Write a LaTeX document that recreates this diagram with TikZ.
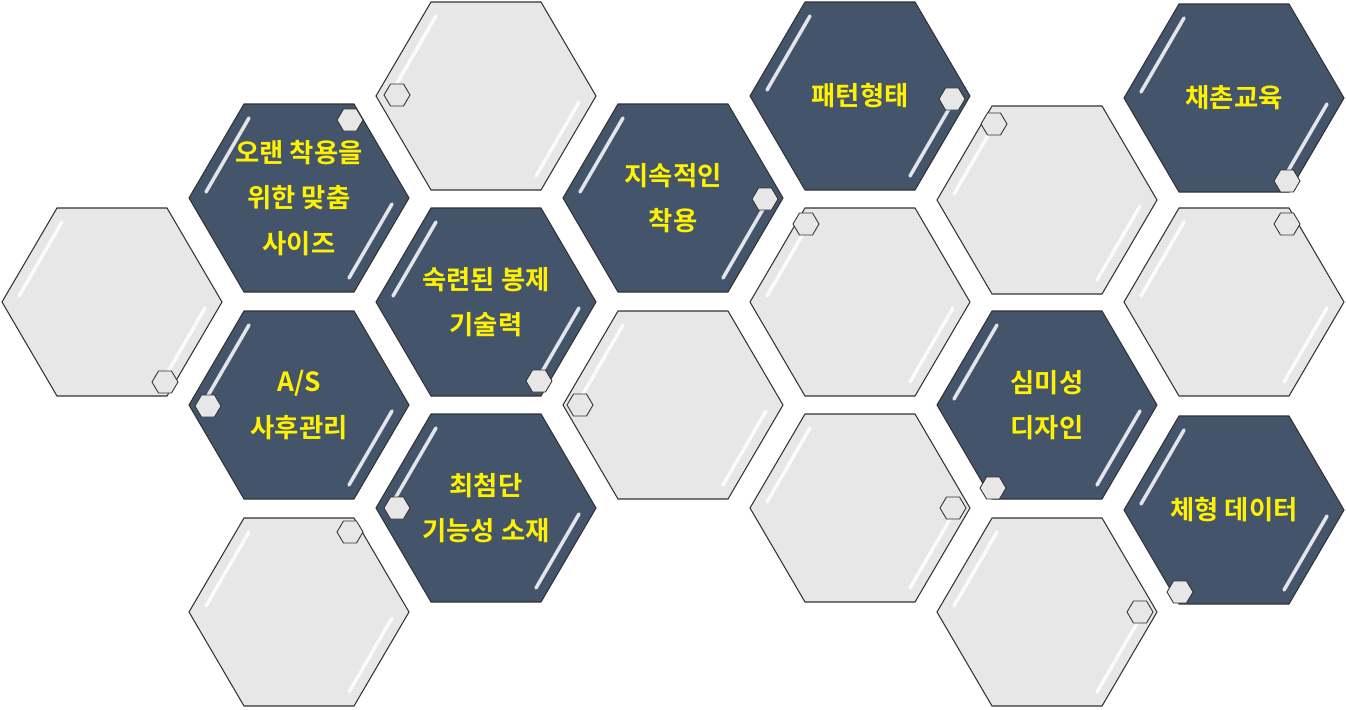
\documentclass[tikz,border=0pt]{standalone}
\usepackage{fontspec}
\newfontfamily\kr{Noto Sans CJK KR Bold}
\begin{document}
\begin{tikzpicture}[x=0.02cm,y=-0.02cm]
\definecolor{dk}{HTML}{44546A}
\definecolor{lg}{HTML}{E7E7E7}
\useasboundingbox (0,0) rectangle (1346,710);
\tikzset{
 hexg/.style={fill=lg,draw=black!80,line width=0.6pt},
 hexd/.style={fill=dk,draw=black!80,line width=0.6pt},
 shine/.style={draw=white,line width=2pt,line cap=round,opacity=0.85},
 lbl/.style={text=yellow,font=\kr\fontsize{15}{26}\selectfont,align=center},
 icon/.style={fill=lg,draw=black!80,line width=0.5pt}
}
\newcommand\hexa[4]{% x y style name
 \coordinate (#4) at (#1,#2);
 \path[#3] (#1-110,#2) -- (#1-55,#2-94) -- (#1+55,#2-94) -- (#1+110,#2) -- (#1+55,#2+94) -- (#1-55,#2+94) -- cycle;
 \draw[shine] (#1-93,#2-6) -- (#1-50,#2-80);
 \draw[shine] (#1+93,#2+6) -- (#1+50,#2+80);
}
\newcommand\ico[2]{%
 \path[icon] (#1-13,#2) -- (#1-6.5,#2-11) -- (#1+6.5,#2-11) -- (#1+13,#2) -- (#1+6.5,#2+11) -- (#1-6.5,#2+11) -- cycle;
}
\hexa{112}{302}{hexg}{g1}
\hexa{299}{198}{hexd}{d1}
\hexa{299}{405}{hexd}{d2}
\hexa{299}{612}{hexg}{g2}
\hexa{486}{96}{hexg}{g3}
\hexa{486}{302}{hexd}{d3}
\hexa{486}{508}{hexd}{d4}
\hexa{673}{198}{hexd}{d5}
\hexa{673}{405}{hexg}{g4}
\hexa{860}{96}{hexd}{d6}
\hexa{860}{302}{hexg}{g5}
\hexa{860}{508}{hexg}{g6}
\hexa{1047}{200}{hexg}{g7}
\hexa{1047}{405}{hexd}{d7}
\hexa{1047}{612}{hexg}{g8}
\hexa{1234}{98}{hexd}{d8}
\hexa{1234}{302}{hexg}{g9}
\hexa{1234}{510}{hexd}{d9}
\foreach \a/\b in {350/120,397/95,165/382,208/406,539/381,350/532,397/508,765/199,580/405,952/99,806/224,953/508,994/124,993/488,1140/612,1287/181,1287/224,1180/592}{\ico{\a}{\b}}
\node[lbl] at (d1) {오랜 착용을\\위한 맞춤\\사이즈};
\node[lbl] at (d2) {A/S\\사후관리};
\node[lbl] at (d3) {숙련된 봉제\\기술력};
\node[lbl] at (d4) {최첨단\\기능성 소재};
\node[lbl] at (d5) {지속적인\\착용};
\node[lbl] at (d6) {패턴형태};
\node[lbl] at (d7) {심미성\\디자인};
\node[lbl] at (d8) {채촌교육};
\node[lbl] at (d9) {체형 데이터};
\end{tikzpicture}
\end{document}
